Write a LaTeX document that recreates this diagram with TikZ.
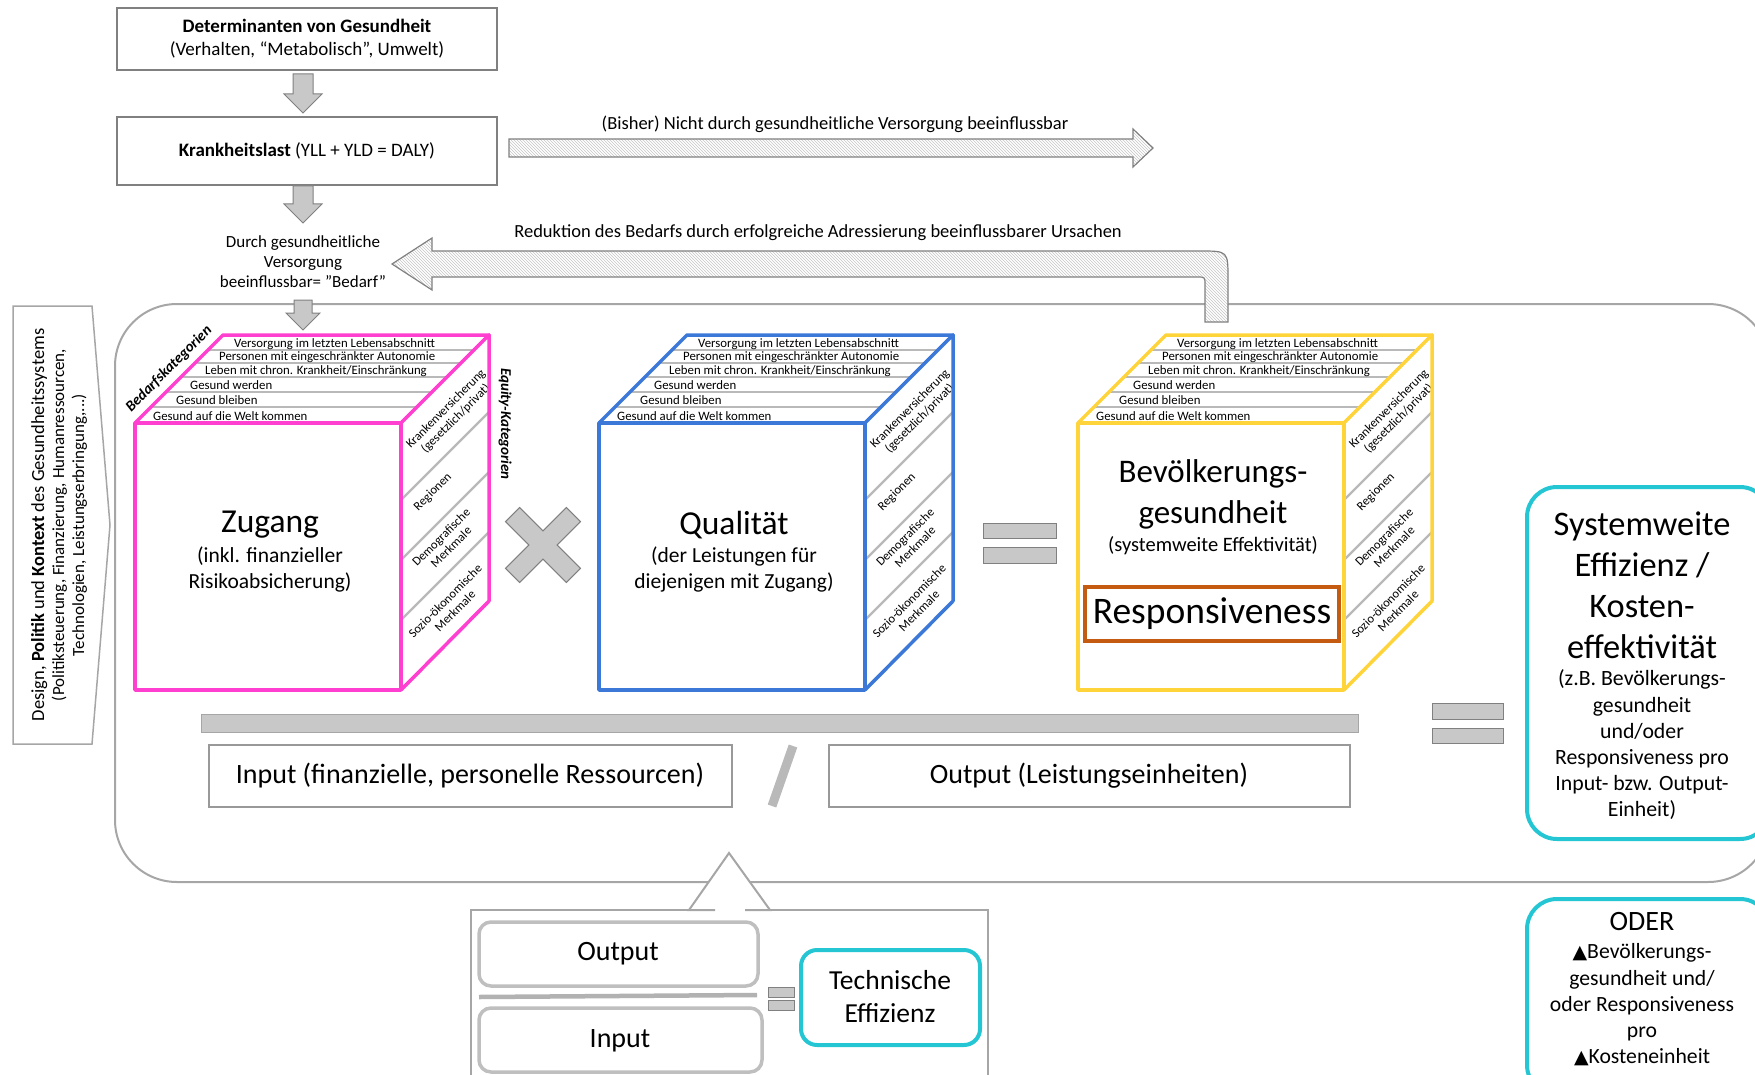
\documentclass[tikz,border=0pt]{standalone}
\usepackage{fontspec}
\setmainfont{Carlito}
\newfontfamily\symfont{DejaVu Sans}
\usetikzlibrary{patterns}
\definecolor{cubepink}{HTML}{FF3FD0}
\definecolor{cubeblue}{HTML}{3C78D8}
\definecolor{cubeyellow}{HTML}{FFD43B}
\definecolor{effcyan}{HTML}{25C6D3}
\definecolor{respbrown}{HTML}{C55A11}
\definecolor{linegray}{HTML}{A6A6A6}
\definecolor{fillgray}{HTML}{C8C8C8}
\tikzset{
  plainbox/.style={draw=gray, line width=1.5pt, fill=white},
  blockarrow/.style={fill=fillgray, draw=gray, line width=1pt},
  hatcharrow/.style={draw=gray, line width=1.2pt, preaction={fill=white}, pattern=north west lines, pattern color=gray!45},
  cubeedge/.style={line width=3.5pt, line join=round},
  rowline/.style={draw=gray!55, line width=2.2pt},
  rowtext/.style={anchor=base west, inner sep=0pt, font=\fontsize{12.8}{13}\selectfont},
  facetext/.style={rotate=45, align=center, inner sep=0pt, font=\fontsize{12.5}{14}\selectfont},
  effbox/.style={draw=effcyan, line width=4pt, rounded corners=30pt, fill=white},
  txt/.style={align=center, inner sep=0pt}
}
\begin{document}
\begin{tikzpicture}[x=1pt,y=-1pt]
\useasboundingbox (0,0) rectangle (1755,1075);
\clip (0,0) rectangle (1755,1075);
% system frame
\draw [linegray, line width=2pt, rounded corners=62pt] (115,304) rectangle (1770,882);
\draw [plainbox, draw=linegray] (13,306) -- (92,306) -- (110,525) -- (92,744) -- (13,744) -- cycle;
\node (design) at (59,525) [txt, rotate=90, font=\fontsize{17}{20}\selectfont] {{\fontsize{18.5}{20}\selectfont Design, \textbf{Politik} und \textbf{Kontext} des Gesundheitssystems}\\(Politiksteuerung, Finanzierung, Humanressourcen,\\Technologien, Leistungserbringung,...)};
% determinants and burden
\draw [plainbox] (117,8) rectangle (497,70);
\node (det) at (307,39) [txt, font=\fontsize{19}{23}\selectfont] {\textbf{Determinanten von Gesundheit}\\(Verhalten, “Metabolisch”, Umwelt)};
\draw [blockarrow] (293,74) -- (313,74) -- (313,94) -- (322,94) -- (303,113) -- (284,94) -- (293,94) -- cycle;
\draw [plainbox] (117,117) rectangle (497,185);
\node (burden) at (307,151) [txt, font=\fontsize{19}{22}\selectfont] {\textbf{Krankheitslast} (YLL + YLD = DALY)};
\draw [blockarrow] (293,186) -- (313,186) -- (313,204) -- (322,204) -- (303,223) -- (284,204) -- (293,204) -- cycle;
\node (need) at (303,262) [txt, font=\fontsize{17}{20}\selectfont] {Durch gesundheitliche\\Versorgung\\beeinflussbar= "Bedarf"};
\draw [blockarrow] (294,300) -- (312,300) -- (312,313) -- (320,313) -- (303,330) -- (286,313) -- (294,313) -- cycle;
% hatched arrows
\draw [hatcharrow] (509,139) -- (1133,139) -- (1133,129) -- (1153,148) -- (1133,167) -- (1133,157) -- (509,157) -- cycle;
\node (notinfl) at (835,124) [txt, font=\fontsize{18.5}{20}\selectfont] {(Bisher) Nicht durch gesundheitliche Versorgung beeinflussbar};
\draw [hatcharrow] (392,264) -- (432,238) -- (432,251) -- (1200,251) .. controls (1228,251) .. (1228,279) -- (1228,322) -- (1205,322) -- (1205,285) .. controls (1205,277) .. (1197,277) -- (432,277) -- (432,290) -- cycle;
\node (reduct) at (818,233) [txt, font=\fontsize{18.5}{20}\selectfont] {Reduktion des Bedarfs durch erfolgreiche Adressierung beeinflussbarer Ursachen};
% cubes
\foreach \cx/\col in {135/cubepink, 599/cubeblue, 1078/cubeyellow} {
  \fill [white] (\cx,423) -- (\cx+88,335) -- (\cx+354,335) -- (\cx+266,423) -- cycle;
  \foreach \ry in {350,363,377,392,407}
    \draw [rowline] (\cx+423-\ry,\ry) -- (\cx+689-\ry,\ry);
  \foreach \tx/\ty/\txt in {446/347/{Versorgung im letzten Lebensabschnitt}, 444/360/{Personen mit eingeschränkter Autonomie}, 444/374/{Leben mit chron. Krankheit/Einschränkung}, 444/389/{Gesund werden}, 445/404/{Gesund bleiben}, 438/420/{Gesund auf die Welt kommen}}
    \node (row-\cx-\ty) at (\cx+\tx-\ty,\ty) [rowtext] {\txt};
  \draw [cubeedge, draw=\col] (\cx,423) -- (\cx+88,335) -- (\cx+354,335) -- (\cx+266,423);
  \fill [white] (\cx+266,423) -- (\cx+354,335) -- (\cx+354,601) -- (\cx+266,690) -- cycle;
  \foreach \sy in {500,560,620}
    \draw [rowline] (\cx+266,\sy) -- (\cx+354,\sy-88);
  \foreach \lx/\ly/\txt in {316/414/{Krankenversicherung\\(gesetzlich/privat)}, 298/492/{Regionen}, 311/542/{Demografische\\Merkmale}, 315/606/{Sozio-ökonomische\\Merkmale}}
    \node (eq-\cx-\ly) at (\cx+\lx,\ly) [facetext] {\txt};
  \draw [cubeedge, draw=\col] (\cx+266,423) -- (\cx+354,335) -- (\cx+354,601) -- (\cx+266,690);
  \draw [cubeedge, draw=\col, fill=white] (\cx,423) rectangle (\cx+266,690);
}
\node (needcat) at (169,369) [txt, rotate=45, font=\fontsize{15}{16}\selectfont\bfseries\itshape] {Bedarfskategorien};
\node (equitycat) at (505,424) [txt, rotate=-90, font=\fontsize{15}{16}\selectfont\bfseries\itshape] {Equity-Kategorien};
\node (access) at (270,525) [txt, font=\fontsize{33.5}{38}\selectfont] {Zugang};
\node (accessnote) at (270,569) [txt, font=\fontsize{21.5}{26}\selectfont] {(inkl. finanzieller\\Risikoabsicherung)};
\node (quality) at (734,525) [txt, font=\fontsize{33.5}{38}\selectfont] {Qualität};
\node (qualitynote) at (734,569) [txt, font=\fontsize{21.5}{26}\selectfont] {(der Leistungen für\\diejenigen mit Zugang)};
\node (pophealth) at (1213,494) [txt, font=\fontsize{33}{41}\selectfont] {Bevölkerungs-\\gesundheit};
\node (pophealthnote) at (1213,546) [txt, font=\fontsize{20.5}{22}\selectfont] {(systemweite Effektivität)};
\draw [respbrown, line width=3.5pt] (1085,587) rectangle (1339,641);
\node (resp) at (1212,614) [txt, font=\fontsize{37.5}{40}\selectfont] {Responsiveness};
% operators
\draw [blockarrow, shift={(543,545)}, rotate=45] (10,43) -- (10,10) -- (43,10) -- (43,-10) -- (10,-10) -- (10,-43) -- (-10,-43) -- (-10,-10) -- (-43,-10) -- (-43,10) -- (-10,10) -- (-10,43) -- cycle;
\draw [blockarrow] (983,523) rectangle (1056,538);
\draw [blockarrow] (983,547) rectangle (1056,563);
\draw [blockarrow] (1432,703) rectangle (1503,719);
\draw [blockarrow] (1432,728) rectangle (1503,743);
\draw [fill=fillgray, draw=linegray, line width=1pt] (201,714) rectangle (1358,732);
% input / output
\draw [plainbox, draw=gray!80] (209,745) rectangle (732,807);
\node (inputres) at (470,776) [txt, font=\fontsize{28}{30}\selectfont] {Input (finanzielle, personelle Ressourcen)};
\draw [gray!55, line width=9pt] (772,806) -- (793,746);
\draw [plainbox, draw=gray!80] (829,745) rectangle (1350,807);
\node (outputserv) at (1089,776) [txt, font=\fontsize{28}{30}\selectfont] {Output (Leistungseinheiten)};
% technical efficiency
\fill [white] (715,910) -- (689,910) -- (729,853) -- (770,910) -- (745,910) -- cycle;
\draw [linegray, line width=2pt] (715,910) -- (689,910) -- (729,853) -- (770,910) -- (745,910);
\draw [linegray, line width=2pt] (715,910) -- (471,910) -- (471,1090);
\draw [linegray, line width=2pt] (745,910) -- (988,910) -- (988,1090);
\draw [draw=gray!50, line width=3.5pt, rounded corners=12pt] (479,922) rectangle (758,986);
\node (outbox) at (618,954) [txt, font=\fontsize{28}{30}\selectfont] {Output};
\draw [gray!60, line width=4.5pt] (479,997) -- (757,995);
\draw [draw=gray!50, line width=3.5pt, rounded corners=12pt] (479,1008) rectangle (762,1072);
\node (inbox) at (620,1041) [txt, font=\fontsize{28}{30}\selectfont] {Input};
\draw [blockarrow] (768,987) rectangle (794,997);
\draw [blockarrow] (768,1000) rectangle (794,1010);
\draw [effbox, rounded corners=16pt] (801,950) rectangle (980,1045);
\node (techeff) at (890,997) [txt, font=\fontsize{27.5}{33}\selectfont] {Technische\\Effizienz};
% system-wide efficiency
\draw [effbox] (1527,487) rectangle (1770,839);
\node (syseff) at (1642,585) [txt, font=\fontsize{34.4}{41}\selectfont] {Systemweite\\Effizienz /\\Kosten-\\effektivität};
\node (syseffnote) at (1642,745) [txt, font=\fontsize{21.8}{26.2}\selectfont] {(z.B. Bevölkerungs-\\gesundheit\\und/oder\\Responsiveness pro\\Input- bzw. Output-\\Einheit)};
\draw [effbox] (1527,899) rectangle (1770,1095);
\node (oder) at (1642,922) [txt, font=\fontsize{28}{30}\selectfont] {ODER};
\node (odernote) at (1642,1005) [txt, font=\fontsize{21.7}{26.2}\selectfont] {{\symfont\fontsize{19}{20}\selectfont ▲}Bevölkerungs-\\gesundheit und/\\oder Responsiveness\\pro\\{\symfont\fontsize{19}{20}\selectfont ▲}Kosteneinheit};
\end{tikzpicture}
\end{document}
